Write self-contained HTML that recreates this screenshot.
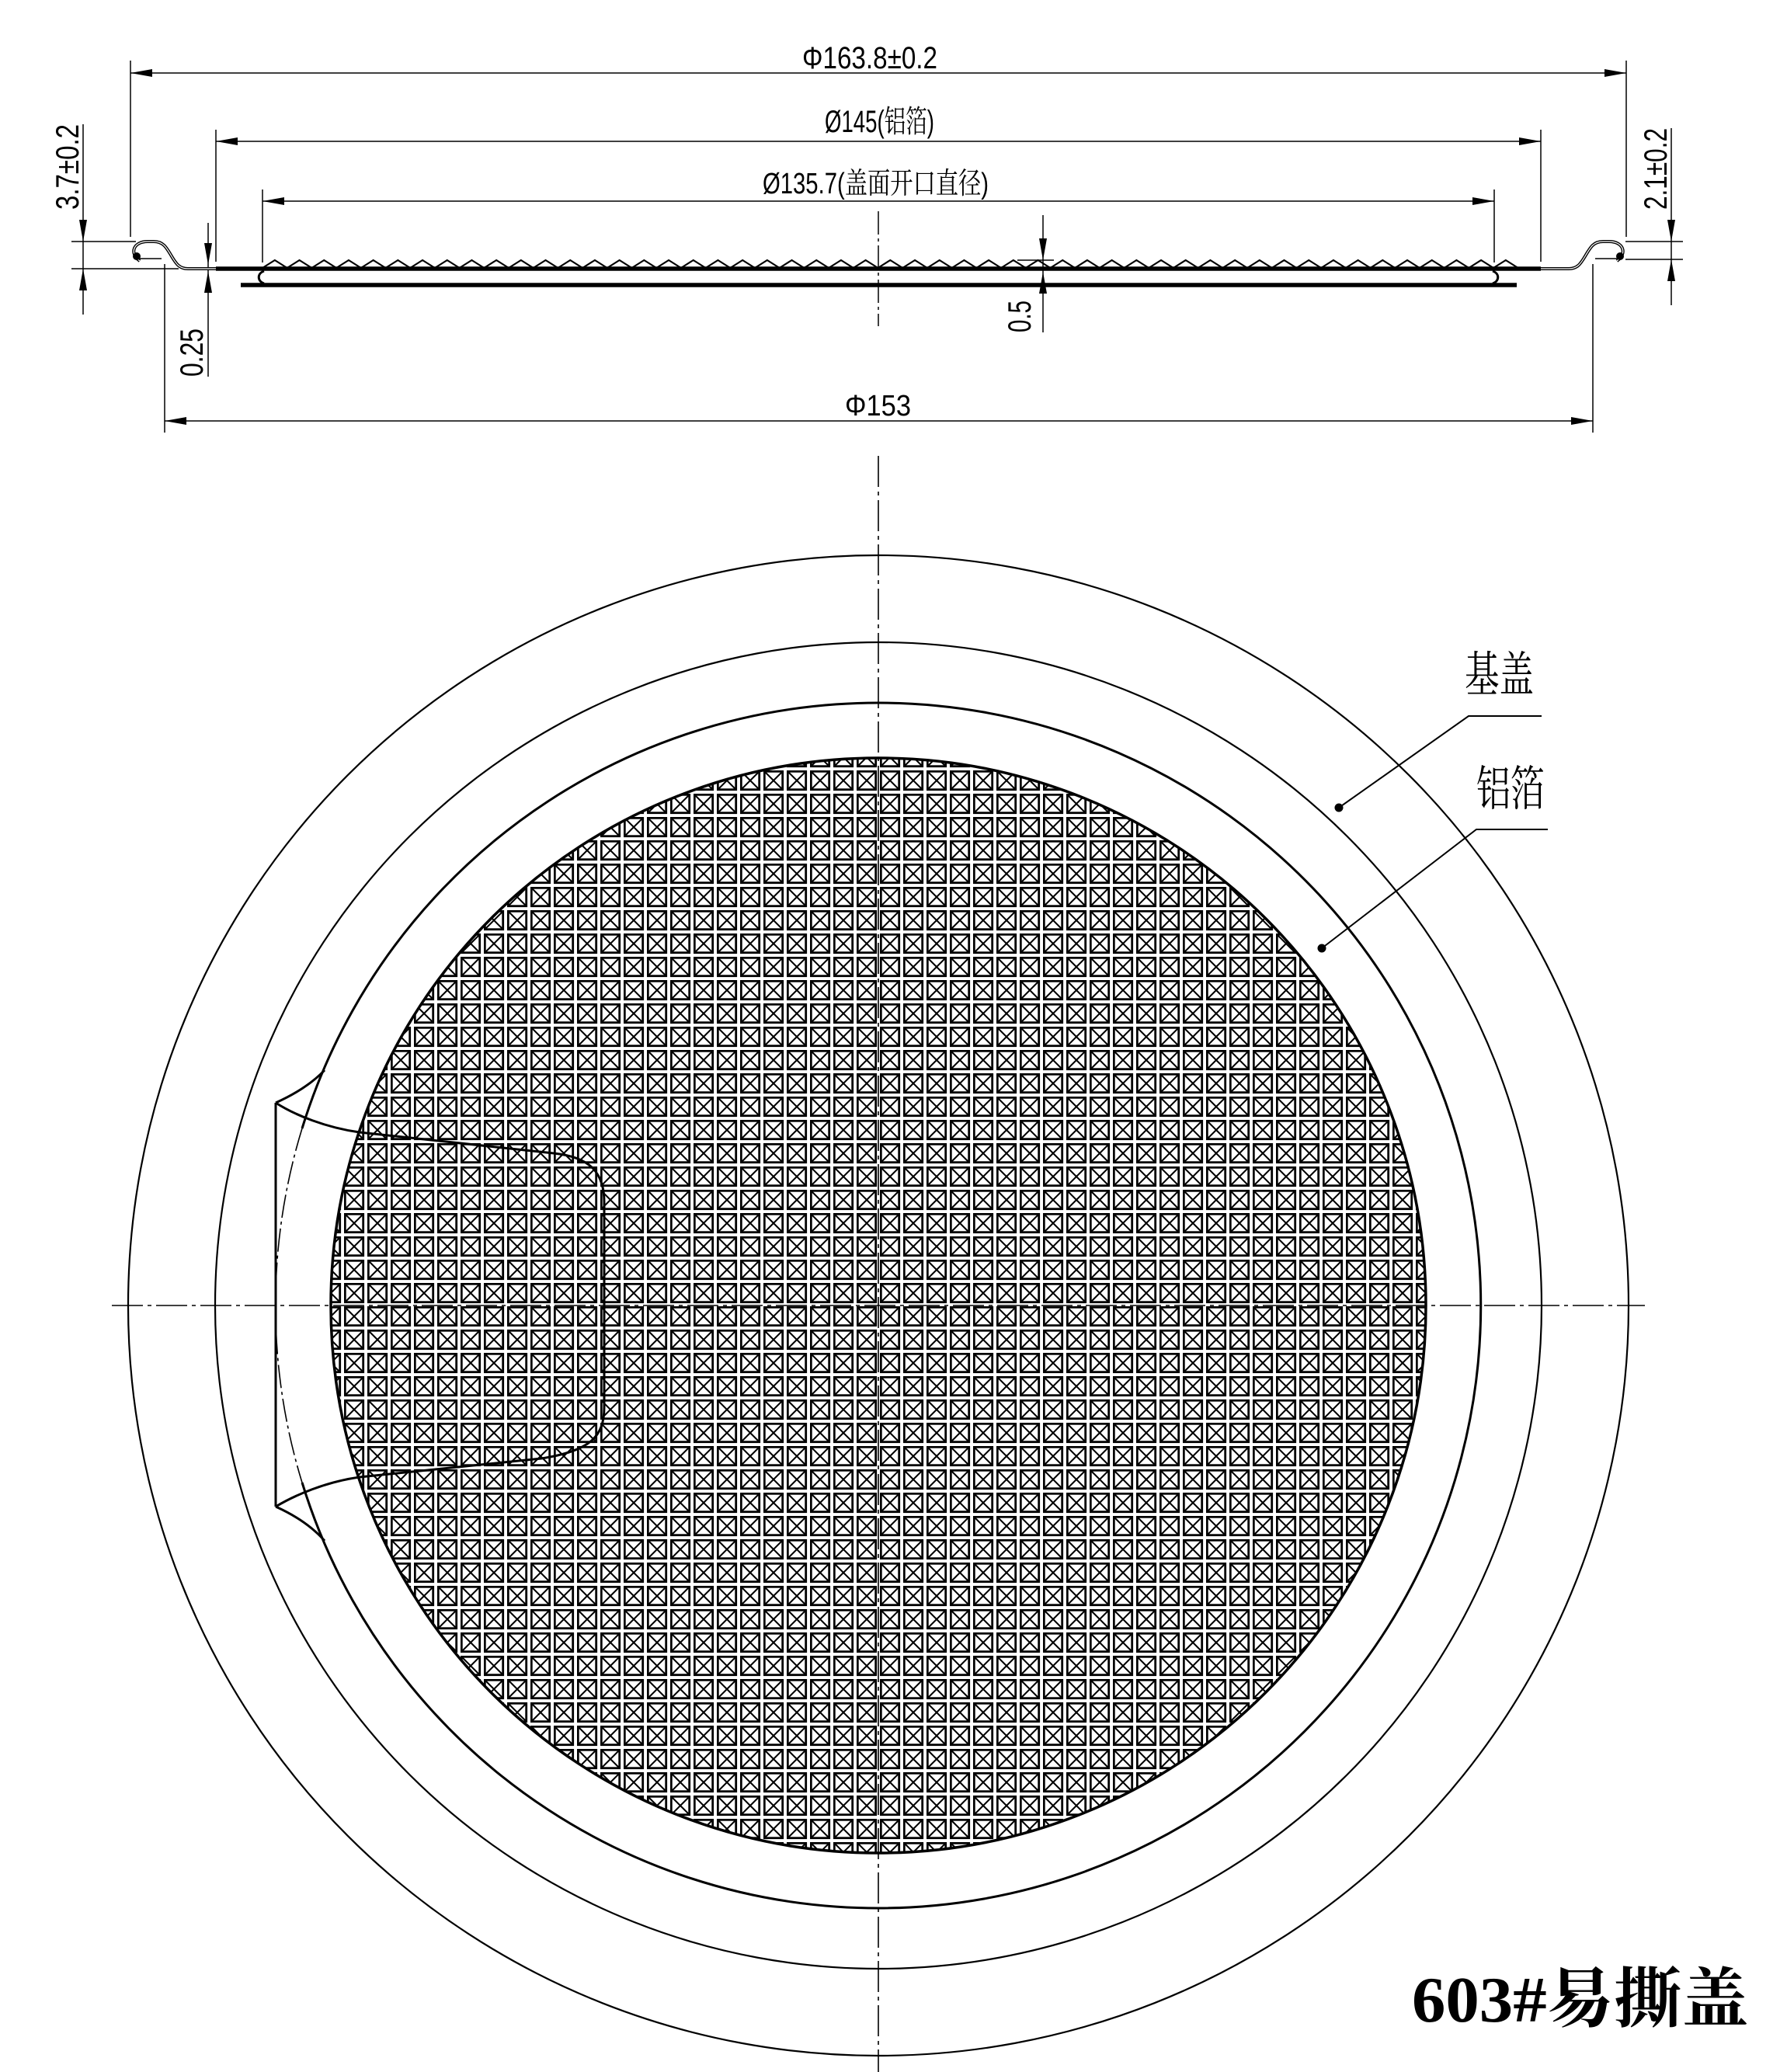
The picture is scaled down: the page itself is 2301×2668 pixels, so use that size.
<!DOCTYPE html>
<html><head><meta charset="utf-8"><style>html,body{margin:0;padding:0;background:#fff}svg{display:block}</style></head>
<body>
<svg xmlns="http://www.w3.org/2000/svg" width="2301" height="2668" viewBox="0 0 2301 2668">
<defs>
<pattern id="cell" patternUnits="userSpaceOnUse" x="1133" y="1682" width="30" height="30">
<rect x="1.3" y="1.3" width="23.4" height="23.4" fill="none" stroke="#000" stroke-width="2.8"/>
<path d="M2.5,2.5 L23.5,23.5 M23.5,2.5 L2.5,23.5" stroke="#000" stroke-width="2"/>
</pattern>
<clipPath id="gc"><circle cx="1131" cy="1681" r="705"/></clipPath>
</defs>
<g fill="none" stroke="#000" font-family="'Liberation Sans','Noto Sans CJK SC',sans-serif">
<path d="M168,78V305 M2094,78V305 M278,167V337 M1984,167V337 M338,244V338 M1924,244V338 M212,340V557 M2051,340V557" stroke-width="1.5"/>
<path d="M168,94H2094 M278,182H1984 M338,259H1924 M212,542H2051" stroke-width="1.5"/>
<g fill="#000" stroke="none">
<polygon points="168,94 196,89 196,99"/><polygon points="2094,94 2066,89 2066,99"/>
<polygon points="278,182 306,177 306,187"/><polygon points="1984,182 1956,177 1956,187"/>
<polygon points="338,259 366,254 366,264"/><polygon points="1924,259 1896,254 1896,264"/>
<polygon points="212,542 240,537 240,547"/><polygon points="2051,542 2023,537 2023,547"/>
</g>
<path d="M92,311H175 M92,346H230 M107,160V405" stroke-width="1.5"/>
<g fill="#000" stroke="none"><polygon points="107,311 102,283 112,283"/><polygon points="107,346 102,374 112,374"/></g>
<path d="M2093,311H2167 M2093,334H2167 M2152,165V393" stroke-width="1.5"/>
<g fill="#000" stroke="none"><polygon points="2152,311 2147,283 2157,283"/><polygon points="2152,334 2147,362 2157,362"/></g>
<path d="M268,287V485" stroke-width="1.5"/>
<g fill="#000" stroke="none"><polygon points="268,341 263,313 273,313"/><polygon points="268,349 263,377 273,377"/></g>
<path d="M1343,277V428 M1310,335H1357" stroke-width="1.5"/>
<g fill="#000" stroke="none"><polygon points="1343,335 1338,307 1348,307"/><polygon points="1343,350 1338,378 1348,378"/></g>
<path d="M1131,272V420" stroke-width="1.5" stroke-dasharray="30 5 4 5"/>
<path d="M180,336 C166,326 172,311 190,311 L198,311 C210,311 214,318 221,330 C227,340 231,346 242,346 L300,346" stroke-width="4"/>
<path d="M180,336 C166,326 172,311 190,311 L198,311 C210,311 214,318 221,330 C227,340 231,346 242,346 L300,346" stroke="#fff" stroke-width="1.2"/>
<path d="M178,333H208" stroke-width="1.5"/>
<circle cx="176" cy="330" r="4.5" fill="#000"/>
<path d="M2082,336 C2096,326 2090,311 2072,311 L2064,311 C2052,311 2048,318 2041,330 C2035,340 2031,346 2020,346 L1962,346" stroke-width="4"/>
<path d="M2082,336 C2096,326 2090,311 2072,311 L2064,311 C2052,311 2048,318 2041,330 C2035,340 2031,346 2020,346 L1962,346" stroke="#fff" stroke-width="1.2"/>
<path d="M2084,333H2054" stroke-width="1.5"/>
<circle cx="2086" cy="330" r="4.5" fill="#000"/>
<path d="M278,346H1984" stroke-width="5.5"/>
<path d="M310,367H1953" stroke-width="5.5"/>
<path d="M340,349 C331,352 331,362 340,365 M1922,349 C1931,352 1931,362 1922,365" stroke-width="3"/>
<path stroke-width="2.2" d="M338,345 l15.85,-10 l15.85,10 l15.85,-10 l15.85,10 l15.85,-10 l15.85,10 l15.85,-10 l15.85,10 l15.85,-10 l15.85,10 l15.85,-10 l15.85,10 l15.85,-10 l15.85,10 l15.85,-10 l15.85,10 l15.85,-10 l15.85,10 l15.85,-10 l15.85,10 l15.85,-10 l15.85,10 l15.85,-10 l15.85,10 l15.85,-10 l15.85,10 l15.85,-10 l15.85,10 l15.85,-10 l15.85,10 l15.85,-10 l15.85,10 l15.85,-10 l15.85,10 l15.85,-10 l15.85,10 l15.85,-10 l15.85,10 l15.85,-10 l15.85,10 l15.85,-10 l15.85,10 l15.85,-10 l15.85,10 l15.85,-10 l15.85,10 l15.85,-10 l15.85,10 l15.85,-10 l15.85,10 l15.85,-10 l15.85,10 l15.85,-10 l15.85,10 l15.85,-10 l15.85,10 l15.85,-10 l15.85,10 l15.85,-10 l15.85,10 l15.85,-10 l15.85,10 l15.85,-10 l15.85,10 l15.85,-10 l15.85,10 l15.85,-10 l15.85,10 l15.85,-10 l15.85,10 l15.85,-10 l15.85,10 l15.85,-10 l15.85,10 l15.85,-10 l15.85,10 l15.85,-10 l15.85,10 l15.85,-10 l15.85,10 l15.85,-10 l15.85,10 l15.85,-10 l15.85,10 l15.85,-10 l15.85,10 l15.85,-10 l15.85,10 l15.85,-10 l15.85,10 l15.85,-10 l15.85,10 l15.85,-10 l15.85,10 l15.85,-10 l15.85,10 l15.85,-10 l15.85,10 l15.85,-10 l15.85,10 l15.85,-10 l15.85,10"/>
<g fill="#000" stroke="none">
<text x="1033" y="88" font-size="40" textLength="174" lengthAdjust="spacingAndGlyphs">Φ163.8±0.2</text>
<text x="1062" y="170" font-size="40" textLength="141" lengthAdjust="spacingAndGlyphs" font-family="'Liberation Sans','Noto Serif CJK SC',serif">Ø145(铝箔)</text>
<text x="982" y="249" font-size="38" textLength="291" lengthAdjust="spacingAndGlyphs" font-family="'Liberation Sans','Noto Serif CJK SC',serif">Ø135.7(盖面开口直径)</text>
<text x="1088" y="535" font-size="38" textLength="85" lengthAdjust="spacingAndGlyphs">Φ153</text>
<text transform="translate(101,270) rotate(-90)" font-size="42" textLength="110" lengthAdjust="spacingAndGlyphs">3.7±0.2</text>
<text transform="translate(2146,270) rotate(-90)" font-size="42" textLength="105" lengthAdjust="spacingAndGlyphs">2.1±0.2</text>
<text transform="translate(261,485) rotate(-90)" font-size="42" textLength="62" lengthAdjust="spacingAndGlyphs">0.25</text>
<text transform="translate(1327,428) rotate(-90)" font-size="42" textLength="41" lengthAdjust="spacingAndGlyphs">0.5</text>
</g>
<rect x="420" y="970" width="1430" height="1430" fill="url(#cell)" stroke="none" clip-path="url(#gc)"/>
<circle cx="1131" cy="1681" r="705" stroke-width="3.5"/>
<circle cx="1131" cy="1681" r="966" stroke-width="2.2"/>
<circle cx="1131" cy="1681" r="854" stroke-width="2.2"/>
<path d="M389,1453 A776,776 0 1 1 389,1909" stroke-width="3"/>
<path d="M389,1453 A776,776 0 0 0 389,1909" stroke-width="1.6" stroke-dasharray="30 5 4 5"/>
<path d="M1131,587V2668" stroke-width="1.6" stroke-dasharray="40 6 5 6"/>
<path d="M144,1681H2118" stroke-width="1.6" stroke-dasharray="40 6 5 6"/>
<path d="M355,1420V1940" stroke-width="3"/>
<path d="M355,1420 Q395,1402 418,1378 M355,1940 Q395,1958 418,1984" stroke-width="3"/>
<path d="M355,1420 C380,1436 420,1452 463,1458 L713,1485 C760,1490 778,1510 778,1548 L778,1812 C778,1850 760,1868 697,1878 L463,1902 C420,1908 380,1925 355,1940" stroke-width="3"/>
<path d="M1985,922H1891L1724,1040 M1993,1068H1901L1702,1221" stroke-width="2"/>
<circle cx="1724" cy="1040" r="5" fill="#000"/>
<circle cx="1702" cy="1221" r="5" fill="#000"/>
<g fill="#000" stroke="none" font-family="'Liberation Serif','Noto Serif CJK SC',serif">
<text x="1886" y="890" font-size="62" textLength="89" lengthAdjust="spacingAndGlyphs">基盖</text>
<text x="1901" y="1037" font-size="62" textLength="88" lengthAdjust="spacingAndGlyphs">铝箔</text>
<text x="1818" y="2603" font-size="84" font-weight="bold" textLength="434" lengthAdjust="spacingAndGlyphs">603#易撕盖</text>
</g>
</g>
</svg>
</body></html>
